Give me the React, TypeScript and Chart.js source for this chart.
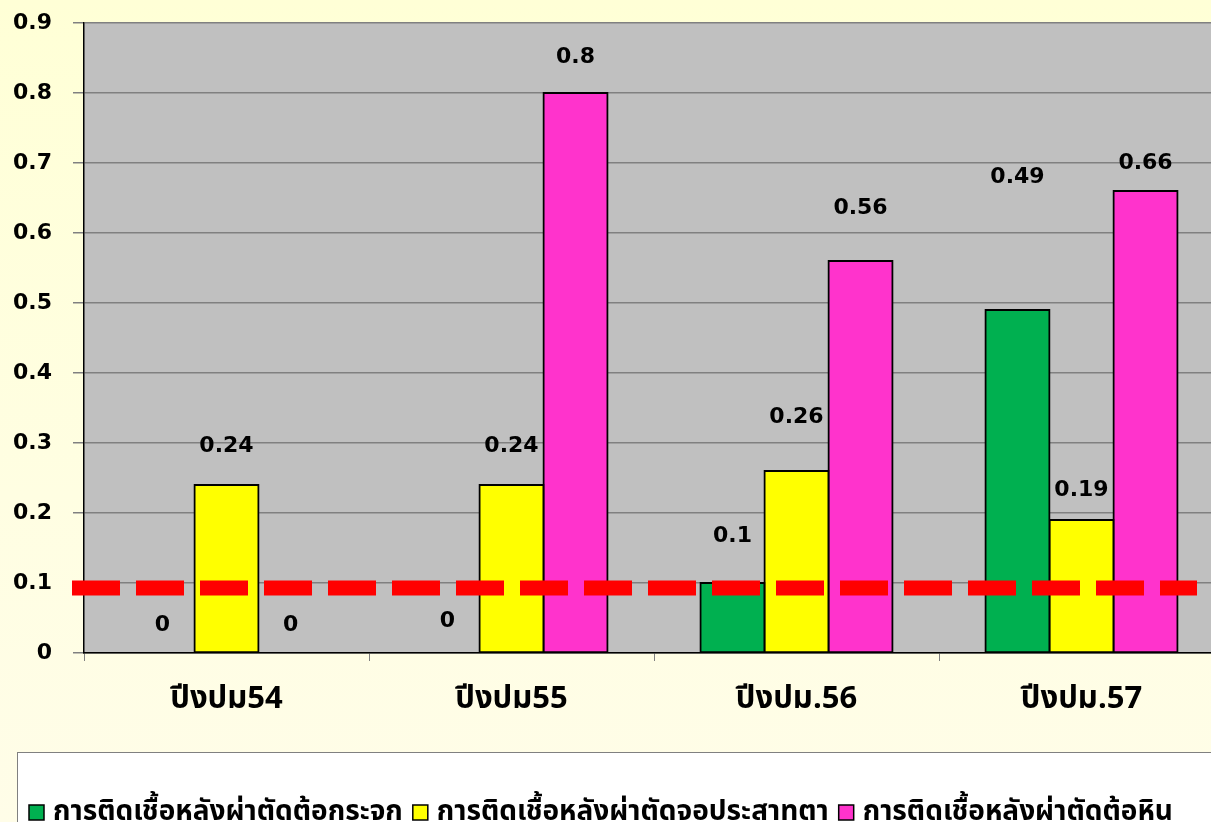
import React, { useEffect, useRef } from "react";
import { Chart, registerables } from "chart.js";

Chart.register(...registerables);

const categories = ["ปีงปม54", "ปีงปม55", "ปีงปม.56", "ปีงปม.57"];
const seriesNames = [
  "การติดเชื้อหลังผ่าตัดต้อกระจก",
  "การติดเชื้อหลังผ่าตัดจอประสาทตา",
  "การติดเชื้อหลังผ่าตัดต้อหิน",
];
const cataract = [0, 0, 0.1, 0.49];
const retina = [0.24, 0.24, 0.26, 0.19];
const glaucoma = [0, 0.8, 0.56, 0.66];
const seriesColors = ["#00B050", "#FFFF00", "#FF33CC"];
// value-axis heights where the data labels sit (as placed in the original)
const cataractLabelAt = [0.039, 0.046, 0.167, 0.68];
const retinaLabelAt = [0.296, 0.296, 0.337, 0.233];
const glaucomaLabelAt = [0.039, 0.851, 0.636, 0.7];
const yTicks = [0, 0.1, 0.2, 0.3, 0.4, 0.5, 0.6, 0.7, 0.8, 0.9];
const thresholdValue = 0.093;

const NUM_FONT = '"DejaVu Sans", Tahoma, sans-serif';
const THAI_FONT = 'Tahoma, "Noto Sans Thai", "Noto Sans", "DejaVu Sans", sans-serif';

export default function App() {
  const ref = useRef<HTMLCanvasElement | null>(null);

  useEffect(() => {
    const canvas = ref.current;
    if (!canvas) return;
    const labelAts = [cataractLabelAt, retinaLabelAt, glaucomaLabelAt];

    const bgPlugin = {
      id: "plotBg",
      beforeDraw(chart: any) {
        const { ctx, chartArea } = chart;
        ctx.save();
        ctx.fillStyle = "#C0C0C0";
        ctx.fillRect(chartArea.left, chartArea.top, chartArea.right - chartArea.left, chartArea.bottom - chartArea.top);
        ctx.restore();
      },
    };

    const overlayPlugin = {
      id: "overlay",
      afterDatasetsDraw(chart: any) {
        const { ctx, chartArea } = chart;
        const y = chart.scales.y;
        // threshold dashed line
        const ty = y.getPixelForValue(thresholdValue);
        ctx.save();
        ctx.strokeStyle = "#FF0000";
        ctx.lineWidth = 15;
        ctx.setLineDash([48, 16]);
        ctx.beginPath();
        ctx.moveTo(chartArea.left - 12, ty);
        ctx.lineTo(1197, ty);
        ctx.stroke();
        ctx.restore();
        // data labels
        ctx.save();
        ctx.fillStyle = "#000";
        ctx.font = `bold 22px ${NUM_FONT}`;
        ctx.textAlign = "center";
        ctx.textBaseline = "middle";
        chart.data.datasets.forEach((ds: any, i: number) => {
          const meta = chart.getDatasetMeta(i);
          meta.data.forEach((bar: any, j: number) => {
            ctx.fillText(String(ds.data[j]), bar.x, y.getPixelForValue(labelAts[i][j]));
          });
        });
        ctx.restore();
      },
      afterDraw(chart: any) {
        const { ctx } = chart;
        ctx.save();
        ctx.fillStyle = "#FFFFFF";
        ctx.fillRect(17.5, 752.5, 1400, 200);
        ctx.strokeStyle = "#808080";
        ctx.lineWidth = 1;
        ctx.strokeRect(17.5, 752.5, 1400, 200);
        ctx.font = `bold 28px ${THAI_FONT}`;
        ctx.textBaseline = "alphabetic";
        ctx.textAlign = "left";
        let x = 29;
        seriesNames.forEach((name, i) => {
          ctx.fillStyle = seriesColors[i];
          ctx.fillRect(x, 805, 15, 15);
          ctx.strokeStyle = "#000";
          ctx.lineWidth = 1.5;
          ctx.strokeRect(x, 805, 15, 15);
          ctx.fillStyle = "#000";
          ctx.fillText(name, x + 24, 820);
          x += 24 + ctx.measureText(name).width + 10;
        });
        ctx.restore();
      },
    };

    const chart = new Chart(canvas, {
      type: "bar",
      data: {
        labels: categories,
        datasets: [cataract, retina, glaucoma].map((d, i) => ({
          label: seriesNames[i],
          data: d,
          backgroundColor: seriesColors[i],
          borderColor: "#000000",
          borderWidth: 2,
          borderSkipped: false,
          inflateAmount: 1,
          barPercentage: 1,
          categoryPercentage: 0.674,
        })),
      },
      options: {
        animation: false,
        responsive: false,
        devicePixelRatio: 1,
        layout: { padding: { left: 0, top: 23, right: 16, bottom: 0 } },
        plugins: { legend: { display: false }, tooltip: { enabled: false } },
        scales: {
          x: {
            afterFit: (s: any) => {
              s.height = 169;
            },
            grid: {
              offset: true,
              drawOnChartArea: false,
              drawTicks: true,
              tickLength: 8,
              color: "#808080",
            },
            border: { color: "#000000", width: 1.5 },
            ticks: {
              color: "#000",
              padding: 22,
              font: { family: THAI_FONT, size: 31, weight: "bold" },
            },
          },
          y: {
            min: 0,
            max: 0.9,
            afterFit: (s: any) => {
              s.width = 84;
              s.paddingTop = 0;
              s.paddingBottom = 0;
            },
            afterBuildTicks: (s: any) => {
              s.ticks = yTicks.map((v) => ({ value: v }));
            },
            grid: { color: "#808080", lineWidth: 1.5, tickLength: 11, drawTicks: true },
            border: { color: "#000000", width: 1.5 },
            ticks: {
              color: "#000",
              padding: 21,
              font: { family: NUM_FONT, size: 22, weight: "bold" },
              callback: (v: any) => String(Math.round(Number(v) * 10) / 10),
            },
          },
        },
      },
      plugins: [bgPlugin, overlayPlugin],
    });
    return () => chart.destroy();
  }, []);

  return (
    <div
      style={{
        position: "fixed",
        left: 0,
        top: 0,
        width: 1211,
        height: 822,
        overflow: "hidden",
        background: "linear-gradient(180deg, #FFFFD6 0%, #FFFEE2 60%, #FFFDE8 100%)",
      }}
    >
      <canvas ref={ref} width={1240} height={822} style={{ width: 1240, height: 822, display: "block" }} />
    </div>
  );
}
